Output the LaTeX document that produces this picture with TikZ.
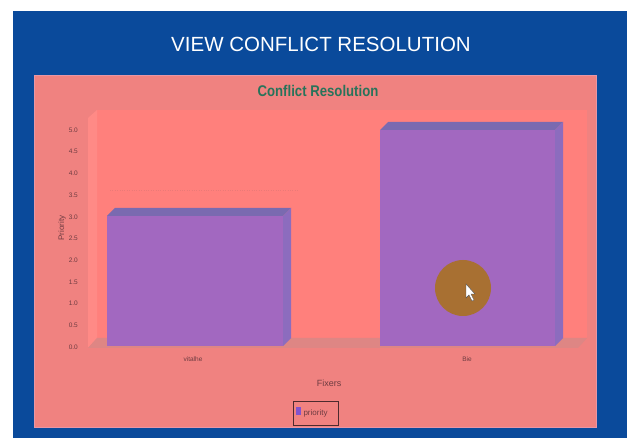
\documentclass[tikz,border=0pt]{standalone}
\usepackage{fontspec}
\setmainfont{Liberation Sans}
\usepackage{tikz}
\usetikzlibrary{positioning}

\definecolor{frameblue}{RGB}{10,74,155}
\definecolor{panelpink}{RGB}{240,130,128}
\definecolor{panelrim}{RGB}{232,150,165}
\definecolor{wallpink}{RGB}{255,128,124}
\definecolor{floorpink}{RGB}{222,134,132}
\definecolor{barfront}{RGB}{162,104,192}
\definecolor{bartop}{RGB}{122,106,176}
\definecolor{barside}{RGB}{140,108,190}
\definecolor{titlegreen}{RGB}{40,115,90}
\definecolor{ticktext}{RGB}{110,60,65}
\definecolor{cursorring}{RGB}{168,112,50}

\tikzset{
  ticklabel/.style={font=\fontsize{6.5}{7}\selectfont, text=ticktext, anchor=east, inner sep=0pt},
  axislabel/.style={font=\fontsize{8}{9}\selectfont, text=ticktext, inner sep=0pt},
}

% one 3d bar: left x, right x, top y (floor at 346)
\newcommand{\chartbar}[3]{%
  \fill[barfront] (#1,#3) rectangle (#2,346);
  \fill[bartop] (#1,#3) -- (#1+8,#3-8) -- (#2+8,#3-8) -- (#2,#3) -- cycle;
  \fill[barside] (#2,#3) -- (#2+8,#3-8) -- (#2+8,338) -- (#2,346) -- cycle;
}

\begin{document}
\begin{tikzpicture}[x=1pt, y=-1pt]
  \useasboundingbox[fill=white] (0,0) rectangle (627,438);

  % Define frame and panel
  \fill[frameblue] (13,11) rectangle (627,438);
  \node[font=\fontsize{20.5}{23}\selectfont, text=white] (title) at (321,44) {VIEW CONFLICT RESOLUTION};
  \fill[panelpink, draw=panelrim, line width=1pt] (34,76) rectangle (596,428);
  \node[font=\bfseries\fontsize{15.5}{17}\selectfont, text=titlegreen, xscale=0.85] (charttitle) at (318,91) {Conflict Resolution};

  % Define plot walls
  \fill[wallpink] (97,110) rectangle (587,338);
  \fill[wallpink!92!white] (88,118) -- (97,110) -- (97,338) -- (88,348) -- cycle;
  \fill[floorpink] (88,348) -- (97,338) -- (587,338) -- (578,348) -- cycle;
  \draw[floorpink!80!black, opacity=0.25, dotted] (110,190) -- (298,190);

  % Tick labels
  \foreach \v [count=\i from 0] in {0.0,0.5,1.0,1.5,2.0,2.5,3.0,3.5,4.0,4.5,5.0}
    \node[ticklabel] (tick\i) at (78,{347-21.7*\i}) {\v};
  \node[axislabel, rotate=90] (ylabel) at (62,228) {Priority};

  % Bars
  \chartbar{107}{283}{216}
  \chartbar{380}{555}{130}

  % Category and axis labels
  \node[axislabel, font=\fontsize{6.5}{7}\selectfont] (cat1) at (193,359) {vitalhe};
  \node[axislabel, font=\fontsize{6.5}{7}\selectfont] (cat2) at (467,359) {Bie};
  \node[axislabel, font=\fontsize{9}{10}\selectfont] (xlabel) at (329,383) {Fixers};

  % Legend
  \node[draw=ticktext!70!black, line width=0.4pt, minimum width=45pt, minimum height=24pt, inner sep=0pt] (legend) at (316,413) {};
  \fill[barfront!80!blue] (296,407) rectangle (301,415);
  \node[axislabel, font=\fontsize{8}{9}\selectfont, right=1pt of legend.west, xshift=9pt] (legendtext) {priority};

  % Cursor highlight
  \fill[cursorring] (463,288) circle (28);
  \draw[black!70, fill=white, line width=0.4pt] (466,284) -- (466,298) -- (469,295) -- (472,301) -- (474,300) -- (471,294) -- (475,294) -- cycle;
\end{tikzpicture}
\end{document}
